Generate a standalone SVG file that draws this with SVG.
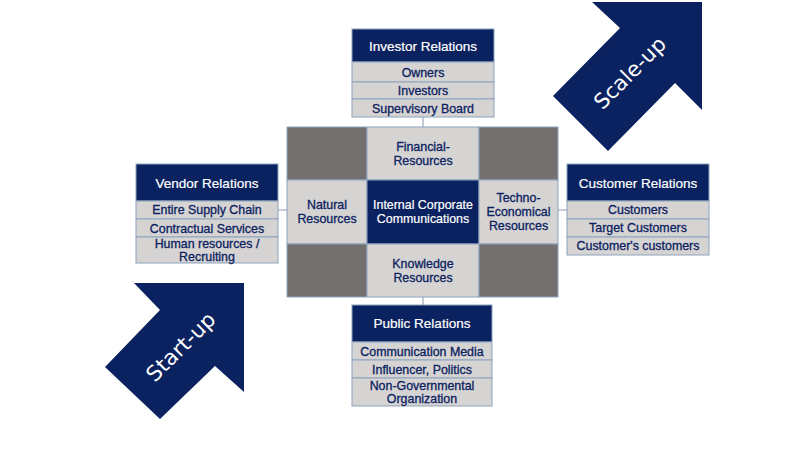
<svg xmlns="http://www.w3.org/2000/svg" width="800" height="450" viewBox="0 0 800 450">
<style>
  .hdr { fill: #0b2260; stroke: #8ea4bd; stroke-width: 1; }
  .row { fill: #d6d3d3; stroke: #8ea4bd; stroke-width: 1; }
  .dark { fill: #747070; stroke: #8ea4bd; stroke-width: 1; }
  .ht { font-family: "Liberation Sans", Arial, sans-serif; font-size: 13.5px; fill: #ffffff; stroke: #ffffff; stroke-width: 0.2; text-anchor: middle; }
  .rt { font-family: "Liberation Sans", Arial, sans-serif; font-size: 12.4px; fill: #0b2260; stroke: #0b2260; stroke-width: 0.3; text-anchor: middle; }
  .wt { font-family: "Liberation Sans", Arial, sans-serif; font-size: 12.4px; fill: #ffffff; stroke: #ffffff; stroke-width: 0.2; text-anchor: middle; }
  .arrow { fill: #0b2260; }
  .at { font-family: "DejaVu Sans", "Liberation Sans", sans-serif; font-size: 21px; fill: #ffffff; text-anchor: middle; }
  .conn line { stroke: #8a9ab0; stroke-width: 1; }
</style>
<rect width="800" height="450" fill="#ffffff"/>

<g id="arrow-scaleup">
  <polygon class="arrow" points="592,2 702,2 702,110 675,83 608,151 553,96 620,28"/>
  <text class="at" transform="translate(630,73) rotate(-45)" x="0" y="7" textLength="92" lengthAdjust="spacingAndGlyphs">Scale-up</text>
</g>
<g id="arrow-startup">
  <polygon class="arrow" points="134,283 244,283 244,392 215,366 160,419 105,367 160,310"/>
  <text class="at" transform="translate(181,347) rotate(-45)" x="0" y="7" textLength="88" lengthAdjust="spacingAndGlyphs">Start-up</text>
</g>

<g class="conn" id="connectors">
  <line x1="423" y1="117" x2="423" y2="127"/>
  <line x1="423" y1="297" x2="423" y2="305"/>
  <line x1="278" y1="210" x2="287" y2="210"/>
  <line x1="558" y1="210" x2="567" y2="210"/>
</g>

<g id="investor">
  <rect class="hdr" x="352" y="29" width="142" height="33"/>
  <rect class="row" x="352" y="62" width="142" height="20"/>
  <rect class="row" x="352" y="82" width="142" height="17"/>
  <rect class="row" x="352" y="99" width="142" height="18"/>
  <text class="ht" x="423" y="50.5">Investor Relations</text>
  <text class="rt" x="423" y="76.5">Owners</text>
  <text class="rt" x="423" y="94.7">Investors</text>
  <text class="rt" x="423" y="112.5">Supervisory Board</text>
</g>

<g id="center">
  <rect class="dark" x="287" y="127" width="80" height="53"/>
  <rect class="row" x="367" y="127" width="112" height="53"/>
  <rect class="dark" x="479" y="127" width="79" height="53"/>
  <rect class="row" x="287" y="180" width="80" height="64"/>
  <rect class="hdr" x="367" y="180" width="112" height="64"/>
  <rect class="row" x="479" y="180" width="79" height="64"/>
  <rect class="dark" x="287" y="244" width="80" height="53"/>
  <rect class="row" x="367" y="244" width="112" height="53"/>
  <rect class="dark" x="479" y="244" width="79" height="53"/>
  <text class="rt" x="423" y="151">Financial-</text>
  <text class="rt" x="423" y="165">Resources</text>
  <text class="rt" x="327" y="208.7">Natural</text>
  <text class="rt" x="327" y="223.2">Resources</text>
  <text class="wt" x="423" y="209.3">Internal Corporate</text>
  <text class="wt" x="423" y="223.3">Communications</text>
  <text class="rt" x="518.5" y="202">Techno-</text>
  <text class="rt" x="518.5" y="216">Economical</text>
  <text class="rt" x="518.5" y="230">Resources</text>
  <text class="rt" x="423" y="267.6">Knowledge</text>
  <text class="rt" x="423" y="281.6">Resources</text>
</g>

<g id="vendor">
  <rect class="hdr" x="136" y="164" width="142" height="37"/>
  <rect class="row" x="136" y="201" width="142" height="18"/>
  <rect class="row" x="136" y="219" width="142" height="18"/>
  <rect class="row" x="136" y="237" width="142" height="26"/>
  <text class="ht" x="207" y="187.5">Vendor Relations</text>
  <text class="rt" x="207" y="214">Entire Supply Chain</text>
  <text class="rt" x="207" y="232.5">Contractual Services</text>
  <text class="rt" x="207" y="247.6">Human resources /</text>
  <text class="rt" x="207" y="261">Recruiting</text>
</g>

<g id="customer">
  <rect class="hdr" x="567" y="164" width="142" height="37"/>
  <rect class="row" x="567" y="201" width="142" height="18"/>
  <rect class="row" x="567" y="219" width="142" height="18"/>
  <rect class="row" x="567" y="237" width="142" height="18"/>
  <text class="ht" x="638" y="187.5">Customer Relations</text>
  <text class="rt" x="638" y="214.2">Customers</text>
  <text class="rt" x="638" y="232.4">Target Customers</text>
  <text class="rt" x="638" y="250.4">Customer's customers</text>
</g>

<g id="public">
  <rect class="hdr" x="352" y="305" width="140" height="37"/>
  <rect class="row" x="352" y="342" width="140" height="18"/>
  <rect class="row" x="352" y="360" width="140" height="18"/>
  <rect class="row" x="352" y="378" width="140" height="28"/>
  <text class="ht" x="422" y="328.2">Public Relations</text>
  <text class="rt" x="422" y="355.9">Communication Media</text>
  <text class="rt" x="422" y="374.2">Influencer, Politics</text>
  <text class="rt" x="422" y="390.2">Non-Governmental</text>
  <text class="rt" x="422" y="402.6">Organization</text>
</g>
</svg>
